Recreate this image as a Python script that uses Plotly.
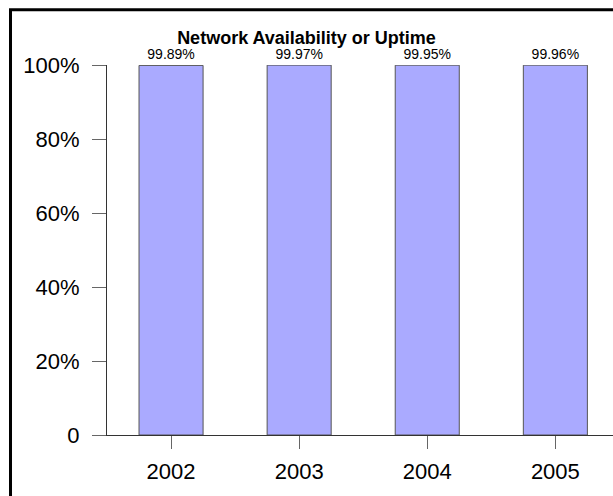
import plotly.graph_objects as go

years = ["2002", "2003", "2004", "2005"]
uptime = [99.89, 99.97, 99.95, 99.96]
y_ticks = [0, 20, 40, 60, 80, 100]
y_tick_labels = ["0", "20%", "40%", "60%", "80%", "100%"]

FONT = "Liberation Sans, Arial, sans-serif"

fig = go.Figure(
    go.Bar(
        x=years,
        y=uptime,
        marker=dict(color="#aaaaff", line=dict(color="#555555", width=1)),
        text=[f"{v:.2f}%" for v in uptime],
        textposition="outside",
        textfont=dict(family=FONT, size=14, color="black"),
        cliponaxis=False,
        width=0.5,
    )
)

fig.update_layout(
    width=613,
    height=496,
    margin=dict(l=107, r=0, t=65, b=61),
    paper_bgcolor="white",
    plot_bgcolor="white",
    showlegend=False,
    title=dict(
        text="<b>Network Availability or Uptime</b>",
        font=dict(family=FONT, size=18, color="black"),
        x=0.5,
        xanchor="center",
        y=0.925,
        yanchor="middle",
    ),
    font=dict(family=FONT, color="black"),
)

fig.update_xaxes(
    type="category",
    range=[-0.5, 3.45],
    showline=True,
    linecolor="#333333",
    linewidth=1,
    ticks="outside",
    ticklen=13,
    tickcolor="#666666",
    tickfont=dict(family=FONT, size=22, color="black"),
    ticklabelstandoff=4,
    showgrid=False,
    zeroline=False,
)

fig.update_yaxes(
    range=[0, 100],
    tickvals=y_ticks,
    ticktext=y_tick_labels,
    showline=True,
    linecolor="#333333",
    linewidth=1,
    ticks="outside",
    ticklen=14,
    tickcolor="#666666",
    tickfont=dict(family=FONT, size=22, color="black"),
    ticklabelstandoff=8,
    showgrid=False,
    zeroline=False,
)

# Heavy black frame around the chart panel
fig.add_shape(
    type="rect",
    xref="paper",
    yref="paper",
    x0=-0.1907,
    x1=1.2,
    y0=-0.3,
    y1=1.149,
    line=dict(color="black", width=3),
    fillcolor="rgba(0,0,0,0)",
    layer="below",
)

fig.write_html("out.html")
